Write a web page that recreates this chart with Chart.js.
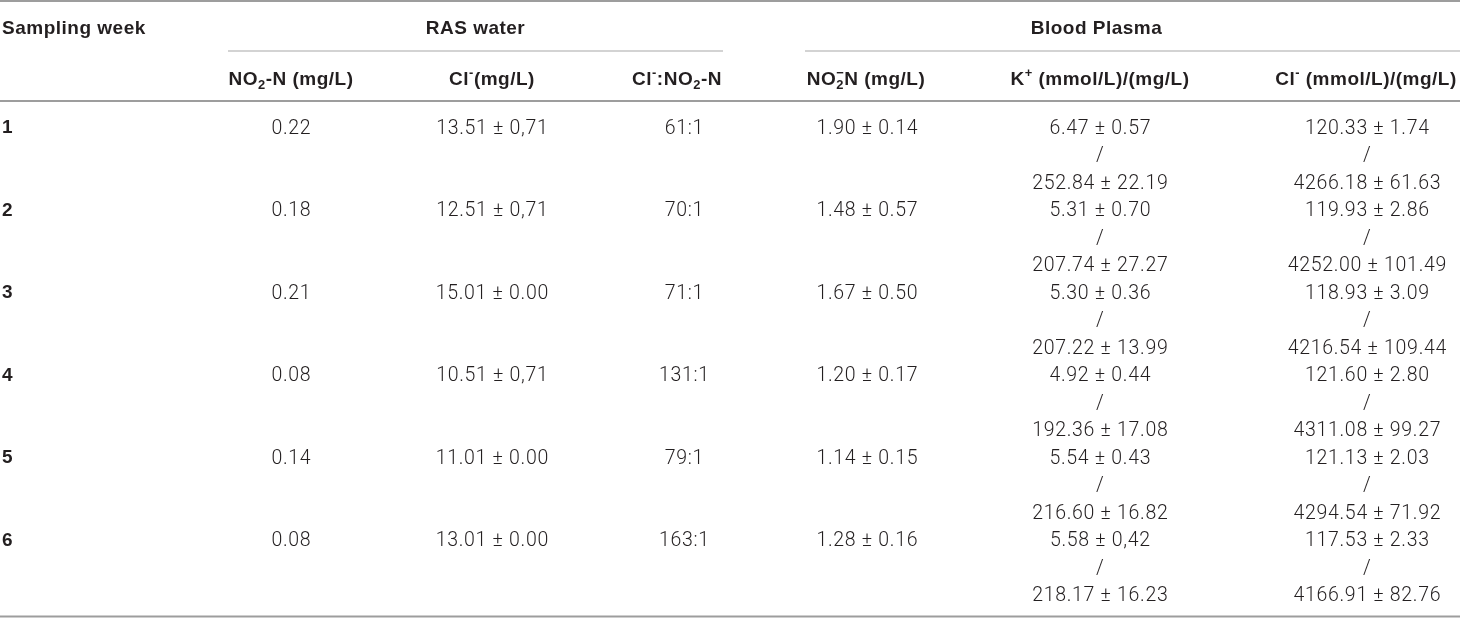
<!DOCTYPE html>
<html>
<head>
<meta charset="utf-8">
<script src="https://cdn.jsdelivr.net/npm/chart.js@4/dist/chart.umd.min.js"></script>
<style>
  html, body { margin: 0; padding: 0; background: #fff; }
  #wrap { width: 1460px; height: 618px; }
</style>
</head>
<body>
<div id="wrap"><canvas id="c" width="1460" height="618"></canvas></div>
<script>
// ---------- data ----------
const weeks = ['1', '2', '3', '4', '5', '6'];
const waterNO2 = ['0.22', '0.18', '0.21', '0.08', '0.14', '0.08'];
const waterCl = ['13.51 ± 0,71', '12.51 ± 0,71', '15.01 ± 0.00', '10.51 ± 0,71', '11.01 ± 0.00', '13.01 ± 0.00'];
const waterRatio = ['61:1', '70:1', '71:1', '131:1', '79:1', '163:1'];
const plasmaNO2 = ['1.90 ± 0.14', '1.48 ± 0.57', '1.67 ± 0.50', '1.20 ± 0.17', '1.14 ± 0.15', '1.28 ± 0.16'];
const plasmaKmmol = ['6.47 ± 0.57', '5.31 ± 0.70', '5.30 ± 0.36', '4.92 ± 0.44', '5.54 ± 0.43', '5.58 ± 0,42'];
const plasmaKmg = ['252.84 ± 22.19', '207.74 ± 27.27', '207.22 ± 13.99', '192.36 ± 17.08', '216.60 ± 16.82', '218.17 ± 16.23'];
const plasmaClmmol = ['120.33 ± 1.74', '119.93 ± 2.86', '118.93 ± 3.09', '121.60 ± 2.80', '121.13 ± 2.03', '117.53 ± 2.33'];
const plasmaClmg = ['4266.18 ± 61.63', '4252.00 ± 101.49', '4216.54 ± 109.44', '4311.08 ± 99.27', '4294.54 ± 71.92', '4166.91 ± 82.76'];

const firstHeader = 'Sampling week';
const groupHeaders = ['RAS water', 'Blood Plasma'];
// rich header segments: sub = subscript, sup = superscript, stack = sub+sup stacked
const columnHeaders = [
  [{ t: 'NO' }, { t: '2', sub: true }, { t: '-N (mg/L)' }],
  [{ t: 'Cl' }, { t: '-', sup: true }, { t: '(mg/L)' }],
  [{ t: 'Cl' }, { t: '-', sup: true }, { t: ':NO' }, { t: '2', sub: true }, { t: '-N' }],
  [{ t: 'NO' }, { stack: ['2', '−'] }, { t: 'N (mg/L)' }],
  [{ t: 'K' }, { t: '+', sup: true }, { t: ' (mmol/L)/(mg/L)' }],
  [{ t: 'Cl' }, { t: '-', sup: true }, { t: ' (mmol/L)/(mg/L)' }]
];

// ---------- layout (pixels on x scale, line units on y scale) ----------
const COL_X = [291, 492, 684, 867, 1100, 1367];
const HEAD_X = [291, 492, 677, 866, 1100, 1366];
const GROUP_SPAN = [[228, 723], [805, 1460]];
const LINES_PER_ROW = 3;
const Y_TOP = -4.6, Y_BOTTOM = 17.873;
const Y_TOPRULE = -4.56, Y_GROUP = -3.62, Y_GROUPRULE = -2.745, Y_HEAD = -1.76, Y_HEADRULE = -0.93, Y_BOTTOMRULE = 17.82;

const REG_FONT = '"Roboto", "Liberation Sans", sans-serif';
const BOLD_FONT = '"Liberation Sans", Arial, sans-serif';
const TEXT = '#231f20';
const TEXT_REG = '#231f20';
const REG_SIZE = 19.5, REG_SPACING = 0.7;

function colData(values, col, line) {
  return values.map((v, i) => ({ x: COL_X[col], y: i * LINES_PER_ROW + line, label: v }));
}
function slashData(values, col) {
  return values.map((v, i) => ({ x: COL_X[col], y: i * LINES_PER_ROW + 1, label: '/' }));
}

const datasets = [
  { data: weeks.map((w, i) => ({ x: 2, y: i * LINES_PER_ROW, label: w })), bold: true },
  { data: colData(waterNO2, 0, 0) },
  { data: colData(waterCl, 1, 0) },
  { data: colData(waterRatio, 2, 0) },
  { data: colData(plasmaNO2, 3, 0) },
  { data: colData(plasmaKmmol, 4, 0) },
  { data: slashData(plasmaKmmol, 4) },
  { data: colData(plasmaKmg, 4, 2) },
  { data: colData(plasmaClmmol, 5, 0) },
  { data: slashData(plasmaClmmol, 5) },
  { data: colData(plasmaClmg, 5, 2) }
].map(d => Object.assign({ pointRadius: 0, pointHoverRadius: 0, showLine: false }, d));

function setFont(ctx, size, bold) {
  ctx.font = (bold ? '700 ' : '300 ') + size + 'px ' + (bold ? BOLD_FONT : REG_FONT);
  ctx.letterSpacing = bold ? '0.5px' : REG_SPACING + 'px';
  ctx.fontKerning = 'none';
}

function drawRich(ctx, segs, cx, cy, size, bold) {
  const small = size * 0.68;
  const parts = segs.map(s => {
    let w;
    if (s.stack) {
      setFont(ctx, small, bold);
      w = Math.max(ctx.measureText(s.stack[0]).width, ctx.measureText(s.stack[1]).width);
    } else {
      setFont(ctx, (s.sub || s.sup) ? small : size, bold);
      w = ctx.measureText(s.t).width;
    }
    return { s, w };
  });
  const total = parts.reduce((a, p) => a + p.w, 0);
  let x = cx - total / 2;
  const base = cy + size * 0.36;
  ctx.textAlign = 'left';
  ctx.textBaseline = 'alphabetic';
  parts.forEach(p => {
    const s = p.s;
    if (s.stack) {
      setFont(ctx, small, bold);
      ctx.fillText(s.stack[0], x, base + size * 0.22);
      ctx.fillText(s.stack[1], x, base - size * 0.42);
    } else if (s.sub) {
      setFont(ctx, small, bold);
      ctx.fillText(s.t, x, base + size * 0.22);
    } else if (s.sup) {
      setFont(ctx, small, bold);
      ctx.fillText(s.t, x, base - size * 0.42);
    } else {
      setFont(ctx, size, bold);
      ctx.fillText(s.t, x, base);
    }
    x += p.w;
  });
}

const tablePlugin = {
  id: 'tablePlugin',
  afterDatasetsDraw(chart) {
    const ctx = chart.ctx;
    const xs = chart.scales.x, ys = chart.scales.y;
    const X = v => xs.getPixelForValue(v), Y = v => ys.getPixelForValue(v);
    ctx.save();
    // rules
    const rule = (x1, x2, yv, color, w) => {
      ctx.strokeStyle = color; ctx.lineWidth = w;
      ctx.beginPath(); ctx.moveTo(X(x1), Y(yv)); ctx.lineTo(X(x2), Y(yv)); ctx.stroke();
    };
    rule(0, 1460, Y_TOPRULE, '#9d9d9d', 2);
    rule(0, 1460, Y_HEADRULE, '#9d9d9d', 2);
    rule(0, 1460, Y_BOTTOMRULE, '#9d9d9d', 2);
    GROUP_SPAN.forEach(sp => rule(sp[0], sp[1], Y_GROUPRULE, '#c4c4c4', 1.5));

    ctx.fillStyle = TEXT;
    // first header
    setFont(ctx, 19, true);
    ctx.textAlign = 'left'; ctx.textBaseline = 'alphabetic';
    ctx.fillText(firstHeader, X(2), Y(Y_GROUP) + 19 * 0.36);
    // group headers
    groupHeaders.forEach((g, i) => {
      drawRich(ctx, [{ t: g }], X((GROUP_SPAN[i][0] + GROUP_SPAN[i][1]) / 2) - (i === 1 ? 36 : 0), Y(Y_GROUP), 19, true);
    });
    // column headers
    columnHeaders.forEach((segs, i) => drawRich(ctx, segs, X(HEAD_X[i]), Y(Y_HEAD), 19, true));

    // cells
    chart.data.datasets.forEach((ds, di) => {
      const meta = chart.getDatasetMeta(di);
      meta.data.forEach((pt, j) => {
        const label = ds.data[j].label;
        ctx.textBaseline = 'alphabetic';
        if (ds.bold) {
          ctx.fillStyle = TEXT;
          setFont(ctx, 19, true);
          ctx.textAlign = 'left';
          ctx.fillText(label, pt.x, pt.y + 19 * 0.36);
        } else {
          ctx.fillStyle = TEXT_REG;
          setFont(ctx, REG_SIZE, false);
          ctx.textAlign = 'center';
          ctx.fillText(label, pt.x + REG_SPACING / 2, pt.y + REG_SIZE * 0.36);
        }
      });
    });
    ctx.restore();
  }
};

new Chart(document.getElementById('c'), {
  type: 'scatter',
  data: { datasets },
  options: {
    responsive: false,
    animation: false,
    events: [],
    layout: { padding: 0 },
    plugins: { legend: { display: false }, tooltip: { enabled: false } },
    scales: {
      x: { type: 'linear', min: 0, max: 1460, display: false },
      y: { type: 'linear', min: Y_TOP, max: Y_BOTTOM, reverse: true, display: false }
    }
  },
  plugins: [tablePlugin]
});
</script>
</body>
</html>
